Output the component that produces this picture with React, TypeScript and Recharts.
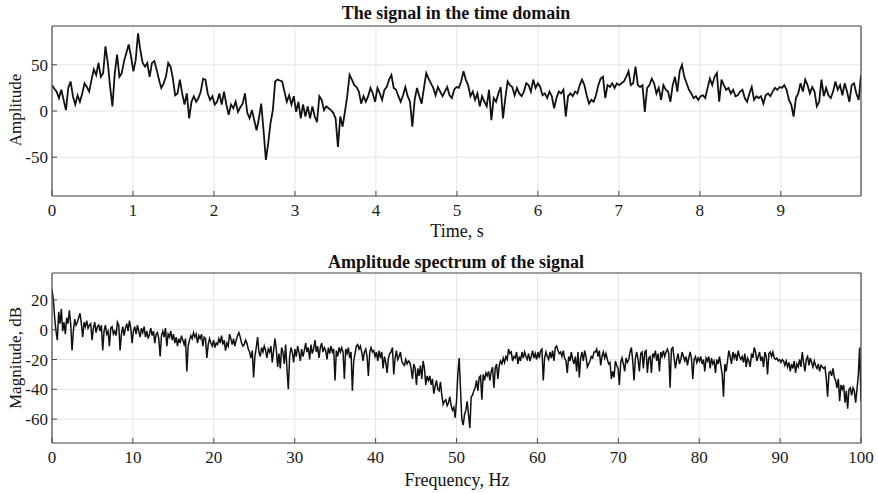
import { LineChart, Line, XAxis, YAxis, CartesianGrid } from "recharts";

// time signal in three stretches (0–3.4 s, 3.4–6.7 s, 6.7–10 s)
const SIGNAL_0_3 = [
  28, 24, 21, 14, 23, 12, 1, 25, 32, 16,
  7, 17, 10, 19, 30, 26, 21, 34, 45, 39,
  52, 37, 41, 70, 52, 26, 5, 41, 61, 37,
  41, 54, 63, 72, 59, 43, 55, 84, 66, 52,
  48, 52, 37, 52, 54, 45, 34, 25, 30, 37,
  52, 48, 35, 17, 19, 34, 19, 7, 19, -8,
  10, 16, 10, 14, 21, 35, 34, 19, 12, 16,
  7, 10, 19, 7, 21, 7, -4, 7, 3, 10,
  -1, 4, 8, 19, -2, -8, 1, -10, -21, -8,
  8, -21, -53, -35, -13, 1, 32, 34, 33, 32,
  21, 10, 17, 7, 16, -1, 10, -8, 7, -6,
  5, -8, 5, -6, -12, 16, 12, 1,
];
const SIGNAL_3_7 = [
  5, 3, 1, -2, -8, -39, -6, -17, -1, 16,
  39, 34, 28, 26, 21, 8, 16, 10, 16, 25,
  19, 10, 25, 19, 12, 23, 26, 34, 39, 25,
  23, 16, 10, 17, 26, 16, 10, -17, 12, 25,
  16, 8, 25, 41, 35, 30, 25, 17, 26, 21,
  16, 21, 26, 17, 14, 23, 26, 25, 32, 43,
  34, 28, 16, 21, 12, 19, 5, 16, 10, 5,
  23, -10, 14, 10, 19, 26, -8, 14, 32, 28,
  26, 17, 25, 19, 16, 21, 30, 28, 21, 34,
  25, 30, 26, 17, 19, 14, 21, 16, 3, 14,
  21, 19, 23, -6, 16, 19, 16, 21, 19, 28,
  34, 28, 17, 8, 12, 10,
];
const SIGNAL_7_10 = [
  17, 28, 35, 37, 14, 28, 26, 30, 25, 30,
  28, 30, 32, 37, 43, 28, 30, 48, 28, 26,
  28, -1, 25, 28, 35, 30, 19, 25, 12, 28,
  23, 21, 10, 28, 37, 21, 43, 50, 37, 30,
  23, 19, 14, 16, 12, 16, 17, 14, 25, 35,
  28, 37, 41, 10, 34, 28, 23, 25, 19, 23,
  16, 17, 21, 23, 14, 10, 19, 26, 12, 16,
  14, 16, 8, 17, 19, 16, 21, 25, 23, 26,
  25, 28, 23, 12, 7, -6, 14, 19, 30, 21,
  34, 28, 19, 26, 21, 5, 10, 34, 16, 25,
  17, 14, 21, 32, 23, 28, 17, 30, 21, 10,
  28, 30, 19, 12, 39,
];

// magnitude spectrum in dB (0–34 Hz, 34–67 Hz, 67–100 Hz)
const SPECTRUM_LOW = [
  27, 20, 8, -1, -7, 12, 4, 14, -1, 5,
  -3, 8, 4, 13, 4, -14, -1, 7, 3, 5,
  8, 11, 4, -5, 5, 2, 6, 1, 3, 4,
  -7, 1, 5, -2, 2, 3, -1, 3, -14, -1,
  3, -3, -1, -11, 1, 2, -3, -1, -4, 5,
  3, -14, -3, 2, -4, 1, 4, -1, 6, 1,
  -9, -1, 2, -3, 3, -1, -5, 1, -2, 2,
  -5, -1, -6, -3, 1, -4, -1, -9, -3, -2,
  -6, -18, -4, -1, -5, 1, -11, -3, -5, -1,
  -7, -3, -9, -5, -11, -6, -9, -4, -7, -10,
  -6, -28, -11, -7, -4, -6, -2, -5, -3, -9,
  -4, -6, -3, -11, -5, -6, -19, -10, -6, -9,
  -11, -7, -12, -9, -10, -6, -9, -4, -10, -7,
  -14, -9, -11, -3, -6, -10, -6, -11, -7, -4,
  -2, -5, -9, -11, -10, -7, -9, -13, -15, -19,
  -14, -32, -18, -12, -5, -15, -18, -12, -15, -11,
  -14, -19, -13, -15, -11, -22, -14, -6, -13, -25,
  -16, -26, -12, -15, -23, -10, -26, -40, -18, -12,
  -15, -22, -13, -18, -11, -15, -21, -13, -18, -14,
  -9, -15, -12, -20, -10, -16, -13, -7, -15, -11,
  -19, -12, -9, -15, -12,
];
const SPECTRUM_MID = [
  -14, -20, -12, -16, -11, -15, -13, -34, -14, -18,
  -12, -15, -12, -15, -33, -13, -16, -12, -19, -15,
  -41, -21, -16, -11, -10, -13, -11, -15, -21, -15,
  -13, -18, -31, -15, -12, -15, -14, -18, -15, -21,
  -14, -19, -15, -26, -18, -22, -29, -19, -16, -15,
  -12, -30, -19, -14, -20, -18, -15, -21, -23, -24,
  -20, -23, -21, -22, -26, -33, -23, -26, -37, -26,
  -31, -24, -33, -21, -26, -37, -31, -34, -31, -37,
  -33, -43, -38, -34, -40, -41, -35, -44, -50, -48,
  -47, -51, -49, -45, -51, -54, -52, -59, -48, -30,
  -19, -40, -60, -64, -57, -54, -48, -57, -66, -45,
  -44, -41, -39, -34, -41, -32, -31, -47, -30, -34,
  -29, -31, -28, -34, -28, -25, -39, -26, -23, -33,
  -24, -21, -23, -19, -22, -18, -20, -13, -16, -15,
  -21, -18, -19, -15, -23, -18, -21, -15, -19, -15,
  -18, -20, -16, -21, -18, -14, -19, -16, -20, -15,
  -19, -14, -13, -34, -19, -15, -18, -20, -15, -19,
  -14, -21, -12, -11, -14, -16, -15, -18, -14, -19,
  -21, -29, -18, -21, -15, -20, -23, -18, -28, -15,
  -32, -19, -15, -21, -14, -18, -25, -23, -21, -18,
  -19, -15,
];
const SPECTRUM_HIGH = [
  -15, -13, -18, -14, -24, -18, -15, -19, -16, -20,
  -23, -22, -33, -28, -32, -21, -24, -26, -37, -22,
  -19, -23, -28, -19, -22, -20, -15, -12, -21, -34,
  -19, -15, -20, -28, -16, -15, -26, -15, -14, -29,
  -19, -18, -29, -16, -18, -14, -21, -16, -28, -15,
  -18, -14, -18, -15, -13, -16, -39, -13, -12, -19,
  -26, -20, -16, -23, -20, -15, -18, -21, -18, -24,
  -19, -15, -19, -33, -20, -18, -22, -19, -21, -18,
  -23, -20, -28, -19, -21, -18, -26, -19, -23, -21,
  -29, -20, -23, -18, -24, -30, -45, -23, -28, -21,
  -14, -18, -23, -15, -19, -16, -21, -14, -18, -20,
  -18, -22, -16, -25, -19, -21, -25, -16, -19, -12,
  -15, -21, -18, -15, -21, -18, -25, -15, -18, -30,
  -16, -15, -18, -15, -19, -20, -19, -21, -20, -22,
  -20, -21, -24, -21, -25, -22, -28, -23, -26, -21,
  -29, -23, -25, -20, -25, -15, -22, -28, -20, -18,
  -24, -19, -22, -25, -21, -24, -26, -23, -28, -24,
  -25, -26, -25, -33, -45, -29, -28, -31, -26, -32,
  -34, -39, -33, -48, -37, -40, -37, -49, -41, -53,
  -40, -39, -44, -39, -41, -49, -40, -30, -12, -48,
];

const TIME_END = 9.99;
const FREQ_END = 100;
const TIME_TICKS = [0, 1, 2, 3, 4, 5, 6, 7, 8, 9];
const AMP_TICKS = [-50, 0, 50];
const FREQ_TICKS = [0, 10, 20, 30, 40, 50, 60, 70, 80, 90, 100];
const DB_TICKS = [-60, -40, -20, 0, 20];

const signal = [...SIGNAL_0_3, ...SIGNAL_3_7, ...SIGNAL_7_10];
const spectrum = [...SPECTRUM_LOW, ...SPECTRUM_MID, ...SPECTRUM_HIGH];

const timeData = signal.map((v, i) => ({ t: (i * TIME_END) / (signal.length - 1), v }));
const freqData = spectrum.map((v, i) => ({ f: (i * FREQ_END) / (spectrum.length - 1), v }));

const FONT = "'Liberation Serif', 'Times New Roman', serif";
const AXIS = "#4a4a4a";
const GRID = "#e4e4e4";
const tickStyle = { fill: "#1a1a1a", fontSize: 17, fontFamily: FONT };

// plot box: x 52..861 in both panels
const LEFT_W = 40;
const BOTTOM_H = 30;

interface PanelProps {
  data: { [k: string]: number }[];
  xKey: string;
  xDomain: [number, number];
  xTicks: number[];
  yDomain: [number, number];
  yTicks: number[];
  height: number;
  plotTop: number;
  plotBottom: number;
  strokeWidth: number;
}

function Panel({ data, xKey, xDomain, xTicks, yDomain, yTicks, height, plotTop, plotBottom, strokeWidth }: PanelProps) {
  const margin = {
    top: plotTop - 1,
    right: 878 - 861 - 1,
    bottom: height - plotBottom - BOTTOM_H,
    left: 52 - LEFT_W,
  };
  return (
    <LineChart width={878} height={height} data={data} margin={margin}>
      <CartesianGrid xAxisId="b" yAxisId="l" stroke={GRID} strokeWidth={1} />
      <XAxis
        xAxisId="b"
        dataKey={xKey}
        type="number"
        domain={xDomain}
        ticks={xTicks}
        allowDataOverflow
        height={BOTTOM_H}
        tickSize={-5}
        tickMargin={13}
        tick={tickStyle}
        axisLine={{ stroke: AXIS, strokeWidth: 1.2 }}
        tickLine={{ stroke: AXIS }}
      />
      <XAxis
        xAxisId="t"
        orientation="top"
        dataKey={xKey}
        type="number"
        domain={xDomain}
        ticks={xTicks}
        allowDataOverflow
        height={1}
        tickSize={-5}
        tick={false}
        axisLine={{ stroke: AXIS, strokeWidth: 1.2 }}
        tickLine={{ stroke: AXIS }}
      />
      <YAxis
        yAxisId="l"
        type="number"
        domain={yDomain}
        ticks={yTicks}
        allowDataOverflow
        width={LEFT_W}
        tickSize={-5}
        tickMargin={9}
        tick={tickStyle}
        axisLine={{ stroke: AXIS, strokeWidth: 1.2 }}
        tickLine={{ stroke: AXIS }}
      />
      <YAxis
        yAxisId="r"
        orientation="right"
        type="number"
        domain={yDomain}
        ticks={yTicks}
        allowDataOverflow
        width={1}
        tickSize={-5}
        tick={false}
        axisLine={{ stroke: AXIS, strokeWidth: 1.2 }}
        tickLine={{ stroke: AXIS }}
      />
      <Line
        xAxisId="b"
        yAxisId="l"
        type="linear"
        dataKey="v"
        stroke="#111"
        strokeWidth={strokeWidth}
        dot={false}
        isAnimationActive={false}
      />
    </LineChart>
  );
}

function Caption({ x, y, text, bold, size, rotate }: { x: number; y: number; text: string; bold?: boolean; size: number; rotate?: boolean }) {
  return (
    <div
      style={{
        position: "absolute",
        left: x,
        top: y,
        transform: `translate(-50%, -50%)${rotate ? " rotate(-90deg)" : ""}`,
        fontFamily: FONT,
        fontSize: size,
        fontWeight: bold ? 700 : 400,
        color: "#111",
        whiteSpace: "nowrap",
        lineHeight: 1,
      }}
    >
      {text}
    </div>
  );
}

export default function App() {
  return (
    <div style={{ position: "absolute", left: 0, top: 0, width: 878, height: 493, background: "#fff", overflow: "hidden" }}>
      <div style={{ position: "absolute", left: 0, top: 0 }}>
        <Panel
          data={timeData}
          xKey="t"
          xDomain={[0, TIME_END]}
          xTicks={TIME_TICKS}
          yDomain={[-92, 92]}
          yTicks={AMP_TICKS}
          height={240}
          plotTop={26}
          plotBottom={196}
          strokeWidth={1.8}
        />
      </div>
      <div style={{ position: "absolute", left: 0, top: 240 }}>
        <Panel
          data={freqData}
          xKey="f"
          xDomain={[0, FREQ_END]}
          xTicks={FREQ_TICKS}
          yDomain={[-76, 38]}
          yTicks={DB_TICKS}
          height={253}
          plotTop={33}
          plotBottom={203}
          strokeWidth={1.5}
        />
      </div>
      <Caption x={456} y={13} text="The signal in the time domain" bold size={18} />
      <Caption x={457} y={231} text="Time, s" size={18} />
      <Caption x={15} y={110} text="Amplitude" size={17} rotate />
      <Caption x={456} y={262} text="Amplitude spectrum of the signal" bold size={18} />
      <Caption x={457} y={480} text="Frequency, Hz" size={18} />
      <Caption x={15} y={358} text="Magnitude, dB" size={17} rotate />
    </div>
  );
}
